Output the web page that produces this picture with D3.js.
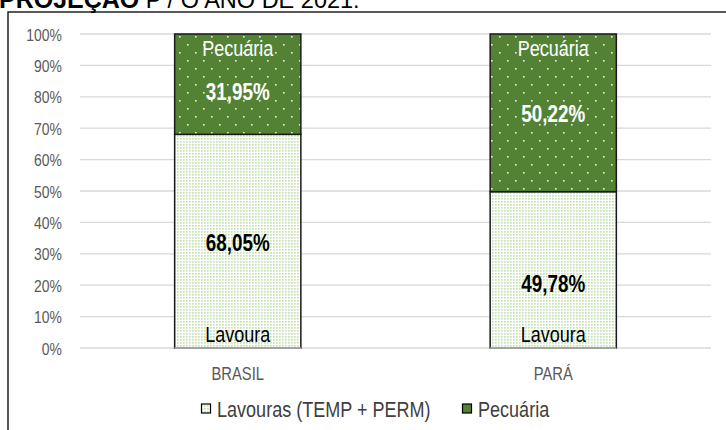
<!DOCTYPE html>
<html><head><meta charset="utf-8">
<script src="https://cdn.jsdelivr.net/npm/d3@7/dist/d3.min.js"></script>
<style>
body{margin:0;background:#fff;}
svg{display:block;}
</style></head>
<body><svg id="c" width="726" height="430"></svg>
<script>
const categories = ["BRASIL", "PARÁ"];
const lavoura = [68.05, 49.78];
const pecuaria = [31.95, 50.22];
const lavouraLabels = ["68,05%", "49,78%"];
const pecuariaLabels = ["31,95%", "50,22%"];
const seriesNames = ["Lavouras (TEMP + PERM)", "Pecuária"];
const ticks = [0,10,20,30,40,50,60,70,80,90,100];

const font = "'Liberation Sans',Arial,sans-serif";
const SX = 0.82; // condensed look
const svg = d3.select("#c");
const defs = svg.append("defs");
const p1 = defs.append("pattern").attr("id","lav").attr("patternUnits","userSpaceOnUse").attr("width",3).attr("height",3);
p1.append("rect").attr("width",3).attr("height",3).attr("fill","#fff");
p1.append("rect").attr("x",0).attr("y",0).attr("width",1.7).attr("height",1.7).attr("fill","#c4e3b0");
const p2 = defs.append("pattern").attr("id","pec").attr("patternUnits","userSpaceOnUse").attr("width",16).attr("height",16);
p2.append("rect").attr("width",16).attr("height",16).attr("fill","#548235");
p2.append("rect").attr("x",3).attr("y",4).attr("width",1.6).attr("height",1.6).attr("fill","#e8f0e0");
p2.append("rect").attr("x",11).attr("y",12).attr("width",1.6).attr("height",1.6).attr("fill","#e8f0e0");

function ntext(sel, opts){
  // condensed text via horizontal scale
  return sel.append("text")
    .attr("transform", `translate(${opts.x},${opts.y}) scale(${SX},1)`)
    .attr("text-anchor", opts.anchor || "middle")
    .attr("font-family", font)
    .attr("font-size", opts.size)
    .attr("font-weight", opts.weight || "normal")
    .attr("fill", opts.fill)
    .text(opts.text);
}

// title (clipped at top)
const title = svg.append("text").attr("x",-1).attr("y",8).attr("font-family",font).attr("font-size",25).attr("fill","#000");
title.append("tspan").attr("font-weight","bold").text("PROJEÇÃO");
title.append("tspan").attr("font-size",23.5).text(" P / O ANO DE 2021:");

// frame
svg.append("rect").attr("x",8).attr("y",12).attr("width",760).attr("height",460).attr("fill","none").attr("stroke","#000").attr("stroke-width",1.3);

const L = 80, R = 711, T = 34, B = 348;
const y = d3.scaleLinear().domain([0,100]).range([B,T]);
const x = d3.scaleBand().domain(categories).range([L,R]).paddingInner(0.6).paddingOuter(0.3);

svg.append("g").selectAll("line").data(ticks).join("line")
  .attr("x1",L).attr("x2",R).attr("y1",d=>y(d)).attr("y2",d=>y(d))
  .attr("stroke","#d9d9d9").attr("stroke-width",1.3);

const yAxis = d3.axisLeft(y).tickValues(ticks).tickFormat(d=>d+"%").tickSize(0).tickPadding(0);
const ya = svg.append("g").attr("transform",`translate(62,0)`).call(yAxis);
ya.select(".domain").remove();
ya.selectAll("text").attr("font-family",font).attr("font-size",17).attr("fill","#595959")
  .attr("transform",`scale(${SX},1)`).attr("dy","0.36em");

const xAxis = d3.axisBottom(x).tickSize(0).tickPadding(0);
const xa = svg.append("g").attr("transform",`translate(0,${B+32})`).call(xAxis);
xa.select(".domain").remove();
xa.selectAll("text").attr("font-family",font).attr("font-size",18).attr("fill","#595959")
  .attr("dy",0).attr("transform",`scale(${SX},1)`);

const data = categories.map((c,i)=>({c, lav:lavoura[i], pec:pecuaria[i], ll:lavouraLabels[i], pl:pecuariaLabels[i], i}));
const bw = x.bandwidth();
const g = svg.append("g");
g.selectAll(".lav").data(data).join("rect").attr("class","lav")
  .attr("x",d=>x(d.c)).attr("width",bw)
  .attr("y",d=>y(d.lav)).attr("height",d=>y(0)-y(d.lav))
  .attr("fill","url(#lav)").attr("stroke","#1a1a1a").attr("stroke-width",1.5);
g.selectAll(".pec").data(data).join("rect").attr("class","pec")
  .attr("x",d=>x(d.c)).attr("width",bw)
  .attr("y",d=>y(d.lav+d.pec)).attr("height",d=>y(d.lav)-y(d.lav+d.pec))
  .attr("fill","url(#pec)").attr("stroke","#1a1a1a").attr("stroke-width",1.5);
g.selectAll(".base").data(data).join("line")
  .attr("x1",d=>x(d.c)).attr("x2",d=>x(d.c)+bw).attr("y1",B).attr("y2",B)
  .attr("stroke","#bfbfbf").attr("stroke-width",1.5);

const cx = d=>x(d.c)+bw/2;
const lavOff = [2, 14];
const pecOff = [8, 1];
data.forEach(d=>{
  const top = y(d.lav+d.pec), mid = y(d.lav);
  ntext(g,{x:cx(d), y:top+22, size:22, fill:"#fff", text:seriesNames[1]});
  ntext(g,{x:cx(d), y:(mid+top)/2+8+pecOff[d.i], size:23, weight:"bold", fill:"#fff", text:d.pl});
  ntext(g,{x:cx(d), y:(y(0)+mid)/2+8+lavOff[d.i], size:23, weight:"bold", fill:"#000", text:d.ll});
  ntext(g,{x:cx(d), y:B-6, size:22, fill:"#000", text:"Lavoura"});
});

// legend
const items = [{n:seriesNames[0], f:"url(#lav)", x:201}, {n:seriesNames[1], f:"#548235", x:462}];
items.forEach(it=>{
  svg.append("rect").attr("x",it.x+0.5).attr("y",404).attr("width",9).attr("height",9).attr("fill",it.f).attr("stroke","#000").attr("stroke-width",1.2);
  ntext(svg,{x:it.x+16, y:417, size:22, fill:"#404040", anchor:"start", text:it.n});
});
</script></body></html>
